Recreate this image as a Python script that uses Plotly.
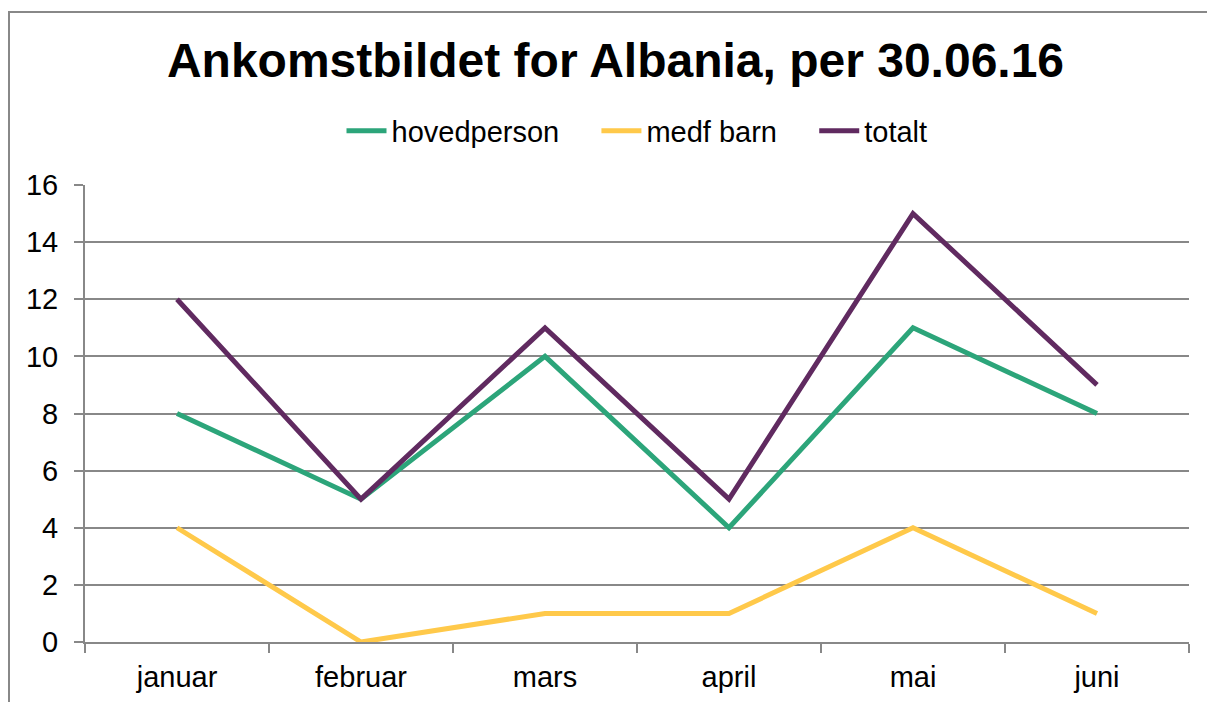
import plotly.graph_objects as go

months = ["januar", "februar", "mars", "april", "mai", "juni"]
hovedperson = [8, 5, 10, 4, 11, 8]
medf_barn = [4, 0, 1, 1, 4, 1]
totalt = [12, 5, 11, 5, 15, 9]

pad = "&nbsp;" * 4
series = [
    ("hovedperson" + pad, hovedperson, "#2ca57a"),
    ("medf barn" + pad, medf_barn, "#ffc94a"),
    ("totalt", totalt, "#602a60"),
]

fig = go.Figure()
for name, vals, col in series:
    fig.add_trace(go.Scatter(x=months, y=vals, name=name, mode="lines",
                             line=dict(color=col, width=5)))

W, H = 1215, 702
off = 8  # page body margin
ml, mr, mt, mb = 77, 34, 177, 68
pw, ph = W - ml - mr, H - mt - mb

# outer chart frame (left/top visible only)
fx0 = (9 - off - ml) / pw
fy1 = (H - mb - (12 - off)) / ph
fig.add_shape(type="rect", xref="paper", yref="paper", x0=fx0, x1=1.2, y0=-0.3, y1=fy1,
              line=dict(color="#888888", width=2), layer="below")

fig.update_layout(
    width=W, height=H,
    margin=dict(l=ml, r=mr, t=mt, b=mb),
    paper_bgcolor="white", plot_bgcolor="white",
    font=dict(family="Liberation Sans, Arial, sans-serif", color="black", size=29),
    title=dict(text="<b>Ankomstbildet for Albania, per 30.06.16</b>", x=0.5, xanchor="center",
               y=1 - (60 - off) / H, yanchor="middle", font=dict(size=48)),
    legend=dict(orientation="h", x=0.5, xanchor="center",
                y=(H - mb - (131 - off)) / ph, yanchor="middle",
                font=dict(size=29), itemwidth=40, tracegroupgap=0),
    showlegend=True,
)
fig.update_xaxes(showgrid=False, showline=True, linecolor="#888888", linewidth=2,
                 ticks="outside", tickson="boundaries", ticklen=9, tickcolor="#888888", tickwidth=2,
                 ticklabelstandoff=8, range=[-0.5, 5.5])
fig.update_yaxes(range=[0, 16], dtick=2, showgrid=True, gridcolor="#888888", gridwidth=1.5,
                 showline=True, linecolor="#888888", linewidth=2, zeroline=False,
                 ticks="outside", ticklen=9, tickcolor="#888888", tickwidth=2,
                 ticklabelstandoff=10)

fig.write_html("out.html")
